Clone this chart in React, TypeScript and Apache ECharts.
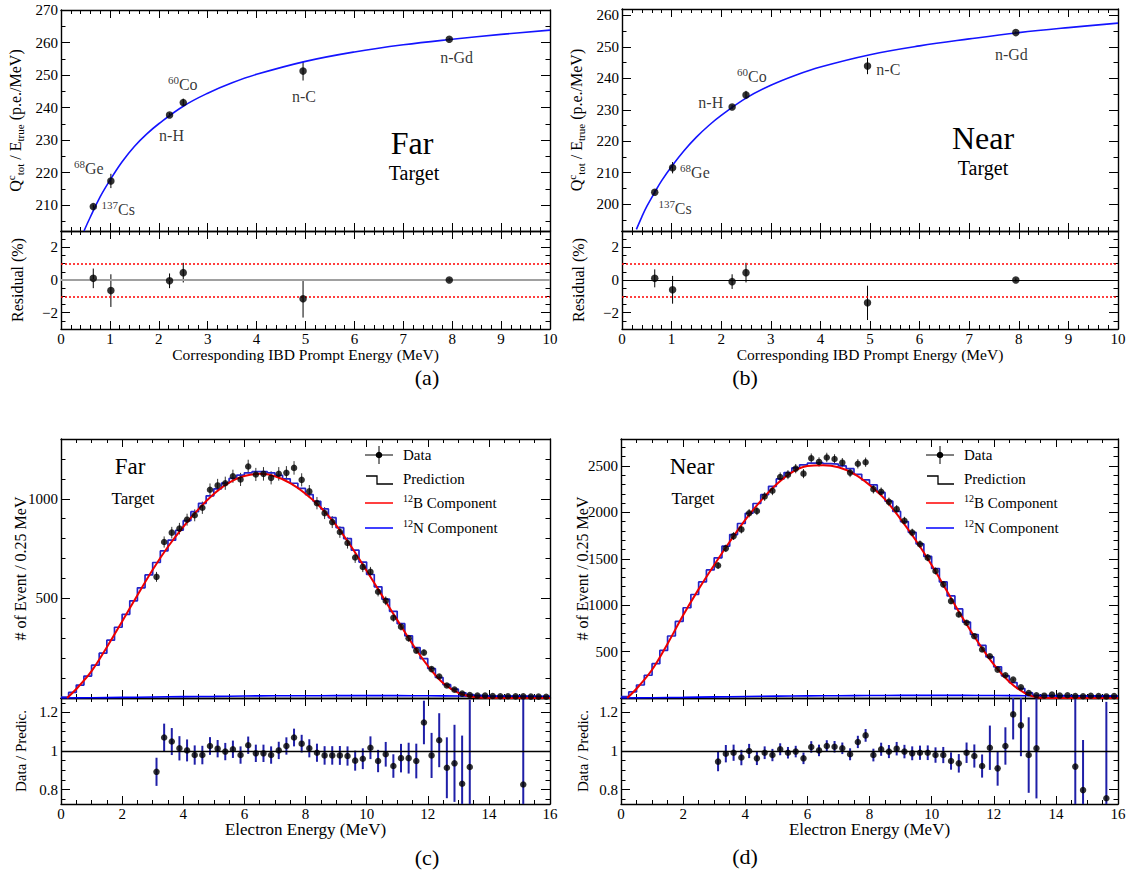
import React, { useEffect, useRef } from "react";
import * as echarts from "echarts";

const FONT = "Liberation Serif, DejaVu Serif, serif";

// ---------------- (a), (b): calibration sources ----------------
const sourceEnergy = [0.66, 1.02, 2.22, 2.5, 4.95, 7.94];
const farQ = [209.5, 217.4, 237.7, 241.5, 251.2, 261.0];
const farQErr = [0.6, 2.2, 0.6, 1.2, 2.9, 0.4];
const nearQ = [203.8, 211.6, 230.9, 234.7, 243.9, 254.5];
const nearQErr = [0.6, 1.8, 0.6, 1.3, 2.6, 0.4];
const farResidual = [0.1, -0.65, -0.05, 0.45, -1.15, 0.0];
const farResidualErr = [0.6, 1.0, 0.45, 0.6, 1.15, 0.1];
const nearResidual = [0.1, -0.6, -0.1, 0.45, -1.4, 0.0];
const nearResidualErr = [0.55, 0.85, 0.45, 0.6, 1.05, 0.1];

const farCurveE = [0.47, 0.6, 0.8, 1.0, 1.25, 1.5, 1.75, 2.0, 2.5, 3.0, 3.5, 4.0, 5.0, 6.0, 7.0, 8.0, 9.0, 10.0];
const farCurveQ = [202.0, 206.3, 212.5, 217.6, 223.3, 228.0, 231.8, 235.0, 240.4, 244.4, 247.6, 250.2, 254.2, 257.1, 259.3, 261.0, 262.5, 263.8];
const nearCurveE = [0.29, 0.4, 0.5, 0.66, 0.8, 1.0, 1.25, 1.5, 1.75, 2.0, 2.5, 3.0, 3.5, 4.0, 5.0, 6.0, 7.0, 8.0, 9.0, 10.0];
const nearCurveQ = [192.0, 196.0, 199.3, 203.8, 207.5, 212.0, 217.0, 221.3, 225.0, 228.2, 233.7, 237.8, 241.0, 243.6, 247.5, 250.3, 252.5, 254.5, 256.1, 257.5];

const farSourceLabels = [
  { text: "{sup|68}{t|Ge}", e: 0.57, q: 221.3 },
  { text: "{sup|137}{t|Cs}", e: 1.17, q: 208.5 },
  { text: "{t|n-H}", e: 2.26, q: 231.5 },
  { text: "{sup|60}{t|Co}", e: 2.49, q: 247.0 },
  { text: "{t|n-C}", e: 4.97, q: 243.3 },
  { text: "{t|n-Gd}", e: 8.09, q: 255.4 },
];
const nearSourceLabels = [
  { text: "{sup|60}{t|Co}", e: 2.62, q: 240.6 },
  { text: "{t|n-H}", e: 1.79, q: 232.2 },
  { text: "{t|n-C}", e: 5.37, q: 242.7 },
  { text: "{t|n-Gd}", e: 7.85, q: 247.4 },
  { text: "{sup|68}{t|Ge}", e: 1.47, q: 210.0 },
  { text: "{sup|137}{t|Cs}", e: 1.07, q: 198.6 },
];

// ---------------- (c), (d): 12B spectra, 0.25 MeV bins ----------------
function seq(a: number, b: number, s: number): number[] {
  const out: number[] = [];
  const n = Math.round((b - a) / s);
  for (let i = 0; i <= n; i++) out.push(Math.round((a + i * s) * 1e6) / 1e6);
  return out;
}
const binEdges = seq(0, 16, 0.25);
const binCenters = binEdges.slice(0, 64).map((e) => e + 0.125);
const dataFirstBin = 12;

const farPrediction = [
  5, 28, 65, 110, 165, 225, 290, 355, 420, 488, 553, 618,
  680, 738, 792, 842, 890, 935, 977, 1015, 1050, 1079, 1102, 1119,
  1130, 1136, 1136, 1130, 1118, 1100, 1078, 1052, 1021, 987, 949, 905,
  855, 800, 742, 682, 620, 558, 496, 435, 373, 312, 253, 198,
  148, 103, 67, 45, 26, 17, 13, 11, 10, 10, 9, 9, 9, 8, 8, 8,
];
const nearPrediction = [
  15, 65, 140, 245, 370, 512, 668, 825, 972, 1115, 1250, 1380,
  1510, 1635, 1760, 1880, 1990, 2095, 2190, 2280, 2360, 2428, 2478, 2512,
  2530, 2535, 2525, 2520, 2500, 2470, 2410, 2350, 2295, 2215, 2120, 2010,
  1900, 1785, 1660, 1525, 1395, 1250, 1100, 960, 818, 684, 566, 442,
  336, 239, 166, 102, 55, 28, 27, 26, 25, 25, 24, 24, 23, 23, 22, 22,
];
const farData = [
  608, 783, 830, 850, 895, 917, 955, 1045, 1067, 1078,
  1113, 1097, 1162, 1122, 1125, 1105, 1125, 1130, 1155, 1095,
  1037, 978, 928, 883, 833, 778, 705, 658, 633, 533,
  488, 403, 358, 300, 238, 228, 145, 108, 63, 42,
  22, 15, 12, 12, 10, 9, 9, 8, 8, 7, 7, 6,
];
const farDataErr = [
  25, 28, 29, 29, 30, 30, 31, 32, 33, 33,
  33, 33, 34, 33, 34, 33, 34, 34, 34, 33,
  32, 31, 30, 30, 29, 28, 27, 26, 25, 23,
  22, 20, 19, 17, 15, 15, 12, 10, 8, 6.5,
  4.7, 3.9, 3.5, 3.5, 3.2, 3, 3, 2.8, 2.8, 2.6, 2.6, 2.4,
];
const nearData = [
  1427, 1612, 1744, 1816, 1990, 2015, 2170, 2232, 2381, 2406,
  2471, 2417, 2583, 2543, 2591, 2575, 2535, 2428, 2523, 2540,
  2250, 2221, 2113, 2034, 1908, 1782, 1656, 1512, 1368, 1224,
  1044, 900, 810, 666, 522, 450, 306, 245, 198, 115,
  54, 29, 25, 36, 26, 29, 22, 19, 24, 21, 17, 20,
];
const nearDataErr = [
  38, 40, 42, 43, 45, 45, 47, 47, 49, 49,
  50, 49, 51, 50, 51, 51, 50, 49, 50, 50,
  47, 47, 46, 45, 44, 42, 41, 39, 37, 35,
  32, 30, 28, 26, 23, 21, 17, 16, 14, 11,
  7, 5.4, 5, 6, 5.1, 5.4, 4.7, 4.4, 4.9, 4.6, 4.1, 4.5,
];

const b12E = [0.2, 0.5, 1.0, 1.5, 2.0, 2.5, 3.0, 3.5, 4.0, 4.5, 5.0, 5.5, 6.0, 6.5, 7.0, 7.5, 8.0, 8.5, 9.0, 9.5, 10.0, 10.5, 11.0, 11.5, 12.0, 12.5, 13.0, 13.5, 14.0, 16.0];
const far12B = [0, 45, 135, 255, 384, 516, 644, 759, 859, 948, 1024, 1081, 1114, 1125, 1113, 1078, 1025, 956, 868, 759, 639, 515, 392, 271, 162, 75, 26, 5, 1, 0];
const near12B = [0, 100, 304, 585, 891, 1173, 1433, 1683, 1919, 2124, 2300, 2431, 2498, 2506, 2485, 2414, 2295, 2140, 1927, 1694, 1432, 1147, 861, 598, 362, 176, 53, 4, 1, 0];

const n12E = [0, 1, 2, 3, 4, 5, 6, 7, 8, 9, 10, 11, 12, 13, 14, 15, 16];
const far12N = [0, 1, 3, 5, 7, 8, 10, 11, 11, 12, 12, 12, 11, 10, 9, 8, 7];
const near12N = [0, 3, 7, 12, 16, 20, 23, 25, 27, 28, 28, 28, 27, 25, 23, 21, 18];

const farRatioE = binCenters.slice(12, 54).concat([15.125]);
const farRatio = [
  0.892, 1.07, 1.049, 1.014, 1.003, 0.979, 0.979, 1.026, 1.012, 0.997,
  1.009, 0.979, 1.03, 0.988, 0.988, 0.979, 1.003, 1.026, 1.07, 1.038,
  1.014, 0.991, 0.977, 0.977, 0.977, 0.974, 0.95, 0.96, 1.017, 0.948,
  0.983, 0.922, 0.963, 0.963, 0.948, 1.148, 0.977, 1.056, 0.913, 0.936,
  0.83, 0.917, 0.826,
];
const farRatioErr = [
  0.073, 0.072, 0.07, 0.063, 0.057, 0.05, 0.048, 0.046, 0.045, 0.045,
  0.045, 0.045, 0.045, 0.045, 0.045, 0.045, 0.045, 0.045, 0.046, 0.046,
  0.047, 0.047, 0.048, 0.048, 0.049, 0.05, 0.052, 0.054, 0.059, 0.058,
  0.064, 0.061, 0.074, 0.08, 0.09, 0.113, 0.117, 0.14, 0.158, 0.2,
  0.25, 0.35, 0.7,
];
const nearRatioE = binCenters.slice(12, 54).concat([14.625, 14.875, 15.625]);
const nearRatio = [
  0.945, 0.986, 0.991, 0.966, 1.0, 0.962, 0.991, 0.979, 1.009, 0.991,
  0.997, 0.962, 1.021, 1.003, 1.026, 1.022, 1.014, 0.983, 1.047, 1.081,
  0.979, 1.009, 0.997, 1.012, 0.997, 0.988, 0.991, 0.991, 0.979, 0.979,
  0.948, 0.936, 0.991, 0.974, 0.922, 1.017, 0.91, 1.026, 1.19, 1.133,
  0.979, 1.014, 0.919, 0.797, 0.755,
];
const nearRatioErr = [
  0.05, 0.045, 0.042, 0.04, 0.037, 0.035, 0.033, 0.032, 0.031, 0.03,
  0.03, 0.03, 0.03, 0.03, 0.03, 0.03, 0.03, 0.031, 0.032, 0.033,
  0.033, 0.034, 0.034, 0.035, 0.035, 0.036, 0.037, 0.038, 0.04, 0.042,
  0.045, 0.048, 0.053, 0.06, 0.06, 0.115, 0.09, 0.097, 0.13, 0.16,
  0.196, 0.26, 0.45, 0.26, 0.5,
];

// ---------------- text ----------------
const Q_TITLE = "{i|Q}{sup|c}{sub|tot}{i| / E}{sub|true}{i| (p.e./MeV)}";
const X_TITLE_TOP = "Corresponding IBD Prompt Energy (MeV)";
const X_TITLE_BOTTOM = "Electron Energy (MeV)";
const Y_RESIDUAL = "Residual (%)";
const Y_EVENTS = "# of Event / 0.25 MeV";
const Y_RATIO = "Data / Predic.";

// ---------------- layout ----------------
const GRIDS = [
  { left: 61, top: 10, width: 489, height: 221 },
  { left: 61, top: 231, width: 489, height: 98 },
  { left: 622, top: 9, width: 496, height: 222 },
  { left: 622, top: 231, width: 496, height: 98 },
  { left: 61, top: 439, width: 489, height: 259 },
  { left: 61, top: 698, width: 489, height: 106 },
  { left: 621, top: 439, width: 497, height: 259 },
  { left: 621, top: 698, width: 497, height: 106 },
];

function richLabel(size: number) {
  return {
    t: { fontFamily: FONT, fontSize: size, color: "#000", lineHeight: size + 4 },
    i: { fontFamily: FONT, fontSize: size, color: "#000", lineHeight: size + 4 },
    sup: { fontFamily: FONT, fontSize: Math.round(size * 0.66), color: "#000", lineHeight: Math.round(size * 0.6), verticalAlign: "top" },
    sub: { fontFamily: FONT, fontSize: Math.round(size * 0.66), color: "#000", lineHeight: Math.round(size * 0.6), verticalAlign: "bottom" },
  };
}
function richGraphic(size: number) {
  return {
    t: { fontFamily: FONT, fontSize: size, fill: "#000", lineHeight: size + 4 },
    sup: { fontFamily: FONT, fontSize: Math.round(size * 0.66), fill: "#000", lineHeight: Math.round(size * 0.6), verticalAlign: "top" },
  };
}

const minusFmt = (v: number) => {
  const r = Math.round(v * 1000) / 1000;
  return r < 0 ? "\u2212" + Math.abs(r) : String(r);
};

function addAxisSet(list: any[], dim: "x" | "y", gridIndex: number, c: any): number {
  const pos = dim === "x" ? ["bottom", "top"] : ["left", "right"];
  const base = { type: "value", gridIndex, min: c.min, max: c.max, splitLine: { show: false }, nameMoveOverlap: false };
  const line = { show: true, onZero: false, lineStyle: { color: "#000", width: 1.4 } };
  const noLine = { show: false, onZero: false };
  const tickStyle = { color: "#000", width: 1 };
  const idx = list.length;
  list.push({
    ...base,
    position: pos[0],
    axisLine: line,
    axisTick: { show: true, inside: true, length: c.majorLen, customValues: c.majors, lineStyle: tickStyle },
    axisLabel: c.labels
      ? { show: true, customValues: c.labelValues || c.majors, formatter: c.fmt || minusFmt, fontFamily: FONT, fontSize: 15, color: "#000", margin: c.margin ?? 3 }
      : { show: false },
    name: c.name,
    nameLocation: "middle",
    nameGap: c.nameGap,
    nameRotate: dim === "y" ? 90 : 0,
    nameTextStyle: c.nameStyle,
  });
  list.push({ ...base, position: pos[0], axisLine: noLine, axisTick: { show: true, inside: true, length: c.minorLen, customValues: c.minors, lineStyle: tickStyle }, axisLabel: { show: false } });
  list.push({ ...base, position: pos[1], axisLine: line, axisTick: { show: true, inside: true, length: c.majorLen, customValues: c.majors, lineStyle: tickStyle }, axisLabel: { show: false } });
  list.push({ ...base, position: pos[1], axisLine: noLine, axisTick: { show: true, inside: true, length: c.minorLen, customValues: c.minors, lineStyle: tickStyle }, axisLabel: { show: false } });
  return idx;
}

function errSeries(xi: number, yi: number, pts: number[][], color: string, width: number) {
  return {
    type: "custom",
    xAxisIndex: xi,
    yAxisIndex: yi,
    clip: true,
    silent: true,
    data: pts,
    encode: { x: 0, y: [1, 2] },
    renderItem: (params: any, api: any) => {
      const x = api.value(0);
      const lo = api.coord([x, api.value(1)]);
      const hi = api.coord([x, api.value(2)]);
      return { type: "line", shape: { x1: lo[0], y1: lo[1], x2: hi[0], y2: hi[1] }, style: { stroke: color, lineWidth: width } };
    },
  };
}

function dots(xi: number, yi: number, xs: number[], ys: number[], size: number, extra: any = {}) {
  return {
    type: "scatter",
    xAxisIndex: xi,
    yAxisIndex: yi,
    symbol: "circle",
    symbolSize: size,
    silent: true,
    itemStyle: { color: "#000" },
    data: xs.map((x, i) => [x, ys[i]]),
    z: 5,
    ...extra,
  };
}

function gText(x: number, y: number, text: string, size: number, align = "center", rich: any = undefined) {
  return {
    type: "text",
    x,
    y,
    silent: true,
    style: { text, fontFamily: FONT, fontSize: size, fill: "#000", align, verticalAlign: "middle", rich },
  };
}

function legendGraphics(dx: number): any[] {
  const g: any[] = [];
  g.push({ type: "line", silent: true, shape: { x1: 365 + dx, y1: 455, x2: 393 + dx, y2: 455 }, style: { stroke: "#000", lineWidth: 1 } });
  g.push({ type: "line", silent: true, shape: { x1: 379 + dx, y1: 446, x2: 379 + dx, y2: 464 }, style: { stroke: "#000", lineWidth: 1 } });
  g.push({ type: "circle", silent: true, shape: { cx: 379 + dx, cy: 455, r: 3.3 }, style: { fill: "#000" } });
  g.push(gText(403 + dx, 455, "Data", 15, "left"));
  g.push({ type: "polyline", silent: true, shape: { points: [[366 + dx, 476], [377 + dx, 476], [377 + dx, 484], [393 + dx, 484]] }, style: { stroke: "#000", lineWidth: 1.3 } });
  g.push(gText(403 + dx, 479, "Prediction", 15, "left"));
  g.push({ type: "line", silent: true, shape: { x1: 365 + dx, y1: 503, x2: 393 + dx, y2: 503 }, style: { stroke: "#ff0000", lineWidth: 1.5 } });
  g.push(gText(403 + dx, 503, "{sup|12}{t|B Component}", 15, "left", richGraphic(15)));
  g.push({ type: "line", silent: true, shape: { x1: 365 + dx, y1: 528, x2: 393 + dx, y2: 528 }, style: { stroke: "#0000ff", lineWidth: 1.5 } });
  g.push(gText(403 + dx, 528, "{sup|12}{t|N Component}", 15, "left", richGraphic(15)));
  return g;
}

function buildOption() {
  const xAxis: any[] = [];
  const yAxis: any[] = [];
  const series: any[] = [];
  const titleStyle = (size: number) => ({ fontFamily: FONT, fontSize: size, color: "#000", rich: richLabel(size) });

  const calibPanel = (g: number, ymin: number, ymax: number, majors: number[], minors: number[], gap: number,
    q: number[], qe: number[], ce: number[], cq: number[], labels: any[], res: number[], rese: number[], zeroColor: string, zeroW: number) => {
    const mx = addAxisSet(xAxis, "x", g, { min: 0, max: 10, majors: seq(0, 10, 1), minors: seq(0, 10, 0.2), majorLen: 8, minorLen: 4 });
    const my = addAxisSet(yAxis, "y", g, { min: ymin, max: ymax, majors, minors, labels: true, majorLen: 9, minorLen: 4.5, name: Q_TITLE, nameGap: gap, nameStyle: titleStyle(16) });
    const rx = addAxisSet(xAxis, "x", g + 1, { min: 0, max: 10, majors: seq(0, 10, 1), minors: seq(0, 10, 0.2), labels: true, majorLen: 8, minorLen: 4, margin: 2, name: X_TITLE_TOP, nameGap: 17, nameStyle: { fontFamily: FONT, fontSize: 15.5, color: "#000" } });
    const ry = addAxisSet(yAxis, "y", g + 1, { min: -3, max: 3, majors: [-2, 0, 2], minors: seq(-3, 3, 0.5), labels: true, majorLen: 9, minorLen: 4.5, name: Y_RESIDUAL, nameGap: gap, nameStyle: { fontFamily: FONT, fontSize: 16, color: "#000" } });
    series.push({ type: "line", xAxisIndex: mx, yAxisIndex: my, data: ce.map((e, i) => [e, cq[i]]), smooth: 0.4, symbol: "none", silent: true, lineStyle: { color: "#1414ff", width: 1.6 } });
    series.push(errSeries(mx, my, sourceEnergy.map((e, i) => [e, q[i] - qe[i], q[i] + qe[i]]), "#000", 1));
    series.push(dots(mx, my, sourceEnergy, q, 7.5));
    series.push({
      type: "scatter", xAxisIndex: mx, yAxisIndex: my, symbolSize: 1, silent: true, itemStyle: { color: "rgba(0,0,0,0)" },
      data: labels.map((l) => ({ value: [l.e, l.q], label: { formatter: () => l.text } })),
      label: { show: true, position: "inside", rich: richLabel(16) },
    });
    series.push(errSeries(rx, ry, sourceEnergy.map((e, i) => [e, res[i] - rese[i], res[i] + rese[i]]), "#000", 1));
    series.push(dots(rx, ry, sourceEnergy, res, 7.5, {
      markLine: {
        silent: true, symbol: "none", label: { show: false }, animation: false,
        data: [
          { yAxis: 1, lineStyle: { color: "#ff0000", type: [2, 2], width: 1.5 } },
          { yAxis: -1, lineStyle: { color: "#ff0000", type: [2, 2], width: 1.5 } },
          { yAxis: 0, lineStyle: { color: zeroColor, type: "solid", width: zeroW } },
        ],
      },
    }));
  };

  calibPanel(0, 202, 270, seq(210, 270, 10), seq(205, 270, 5), 36, farQ, farQErr, farCurveE, farCurveQ, farSourceLabels, farResidual, farResidualErr, "#a0a0a0", 2);
  calibPanel(2, 191.5, 262, seq(200, 260, 10), seq(195, 260, 5), 36, nearQ, nearQErr, nearCurveE, nearCurveQ, nearSourceLabels, nearResidual, nearResidualErr, "#000", 1);

  const spectrumPanel = (g: number, ymax: number, majors: number[], labelVals: number[], gap: number,
    pred: number[], data: number[], dataErr: number[], b12: number[], n12: number[], rE: number[], r: number[], rErr: number[]) => {
    const mx = addAxisSet(xAxis, "x", g, { min: 0, max: 16, majors: seq(0, 16, 2), minors: seq(0, 16, 0.5), majorLen: 8, minorLen: 4 });
    const my = addAxisSet(yAxis, "y", g, { min: 0, max: ymax, majors, labelValues: labelVals, minors: seq(0, Math.floor(ymax / 100) * 100, 100), labels: true, majorLen: 9, minorLen: 4.5, fmt: (v: number) => String(v), name: Y_EVENTS, nameGap: gap, nameStyle: { fontFamily: FONT, fontSize: 16, color: "#000" } });
    const rx = addAxisSet(xAxis, "x", g + 1, { min: 0, max: 16, majors: seq(0, 16, 2), minors: seq(0, 16, 0.5), labels: true, majorLen: 8, minorLen: 4, margin: 2, fmt: (v: number) => String(v), name: X_TITLE_BOTTOM, nameGap: 17, nameStyle: { fontFamily: FONT, fontSize: 17, color: "#000" } });
    const ry = addAxisSet(yAxis, "y", g + 1, { min: 0.725, max: 1.275, majors: [0.8, 1.0, 1.2], minors: seq(0.75, 1.25, 0.05), labels: true, majorLen: 9, minorLen: 4.5, name: Y_RATIO, nameGap: gap, nameStyle: { fontFamily: FONT, fontSize: 15, color: "#000" } });
    const histPts = binEdges.map((e, i) => [e, pred[Math.min(i, pred.length - 1)]]);
    series.push({ type: "line", xAxisIndex: mx, yAxisIndex: my, data: histPts, step: "end", symbol: "none", silent: true, lineStyle: { color: "#2424c8", width: 1.7 } });
    series.push({ type: "line", xAxisIndex: mx, yAxisIndex: my, data: n12E.map((e, i) => [e, n12[i]]), smooth: 0.3, symbol: "none", silent: true, lineStyle: { color: "#0000ff", width: 1.6 } });
    series.push({ type: "line", xAxisIndex: mx, yAxisIndex: my, data: b12E.map((e, i) => [e, b12[i]]), smooth: 0.35, symbol: "none", silent: true, lineStyle: { color: "#ee0000", width: 2 } });
    const dE = binCenters.slice(dataFirstBin, dataFirstBin + data.length);
    series.push(errSeries(mx, my, dE.map((e, i) => [e, data[i] - dataErr[i], data[i] + dataErr[i]]), "#333", 1));
    series.push(dots(mx, my, dE, data, 6.5));
    series.push(errSeries(rx, ry, rE.map((e, i) => [e, r[i] - rErr[i], r[i] + rErr[i]]), "#1f1fa8", 2));
    series.push(dots(rx, ry, rE, r, 6.5, {
      markLine: { silent: true, symbol: "none", label: { show: false }, animation: false, data: [{ yAxis: 1, lineStyle: { color: "#000", type: "solid", width: 1.3 } }] },
    }));
  };

  spectrumPanel(4, 1300, [0, 500, 1000], [500, 1000], 33, farPrediction, farData, farDataErr, far12B, far12N, farRatioE, farRatio, farRatioErr);
  spectrumPanel(6, 2790, seq(0, 2500, 500), seq(500, 2500, 500), 31, nearPrediction, nearData, nearDataErr, near12B, near12N, nearRatioE, nearRatio, nearRatioErr);

  const graphic: any[] = [
    gText(412, 143, "Far", 32),
    gText(414, 173, "Target", 20),
    gText(983, 138, "Near", 32),
    gText(983, 168, "Target", 20),
    gText(130, 466, "Far", 23),
    gText(133, 498, "Target", 17),
    gText(692, 466, "Near", 23),
    gText(693, 498, "Target", 17),
    gText(427, 377, "(a)", 22),
    gText(745, 377, "(b)", 22),
    gText(427, 857, "(c)", 22),
    gText(745, 856, "(d)", 22),
    ...legendGraphics(0),
    ...legendGraphics(561),
  ];

  return {
    animation: false,
    backgroundColor: "#fff",
    textStyle: { fontFamily: FONT },
    grid: GRIDS.map((g) => ({ ...g, containLabel: false, outerBoundsMode: "none" })),
    xAxis,
    yAxis,
    series,
    graphic,
  };
}

export default function App() {
  const ref = useRef<HTMLDivElement>(null);
  useEffect(() => {
    if (!ref.current) return;
    const chart = echarts.init(ref.current, undefined, { renderer: "svg" });
    chart.setOption(buildOption() as any);
    return () => chart.dispose();
  }, []);
  return (
    <div
      ref={ref}
      style={{ position: "absolute", left: 0, top: 0, width: 1131, height: 871, background: "#fff" }}
    />
  );
}
